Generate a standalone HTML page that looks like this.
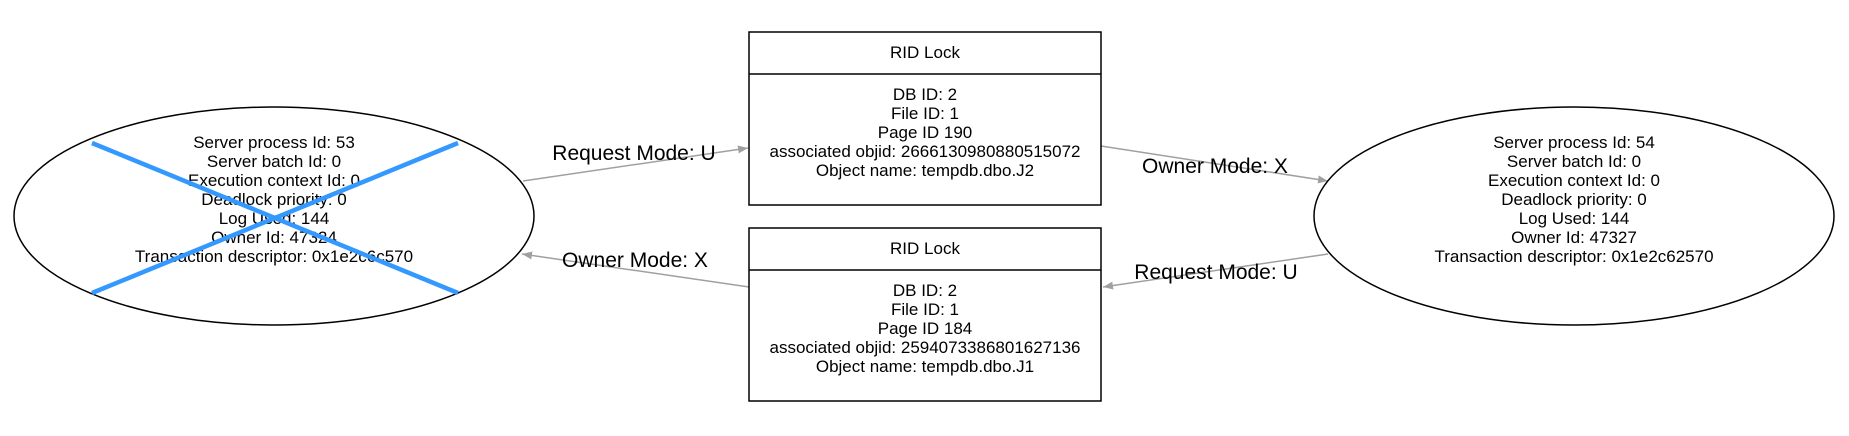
<!DOCTYPE html>
<html><head><meta charset="utf-8"><style>html,body{margin:0;padding:0;background:#fff}</style></head>
<body>
<svg width="1849" height="431" viewBox="0 0 1849 431" xmlns="http://www.w3.org/2000/svg" font-family="Liberation Sans, sans-serif">
<rect width="1849" height="431" fill="#fff"/>
<defs><marker id="a" markerWidth="10" markerHeight="8" refX="10" refY="4" orient="auto" markerUnits="userSpaceOnUse"><path d="M0,0 L10,4 L0,8 z" fill="#a0a0a0"/></marker></defs>
<g stroke="#a0a0a0" stroke-width="1.5" fill="none">
<line x1="523" y1="181" x2="748" y2="148" marker-end="url(#a)"/>
<line x1="1101" y1="146" x2="1328" y2="181" marker-end="url(#a)"/>
<line x1="1328" y1="254" x2="1103" y2="287" marker-end="url(#a)"/>
<line x1="749" y1="287" x2="522" y2="254" marker-end="url(#a)"/>
</g>
<g font-size="21" fill="#000" text-anchor="middle">
<text x="634" y="160">Request Mode: U</text>
<text x="1215" y="173">Owner Mode: X</text>
<text x="1216" y="279">Request Mode: U</text>
<text x="635" y="267">Owner Mode: X</text>
</g>
<ellipse cx="274" cy="216" rx="260" ry="109" fill="none" stroke="#000" stroke-width="1.5"/>
<ellipse cx="1574" cy="216" rx="260" ry="109" fill="none" stroke="#000" stroke-width="1.5"/>
<g fill="none" stroke="#000" stroke-width="1.5">
<rect x="749" y="32" width="352" height="173"/><line x1="749" y1="74" x2="1101" y2="74"/>
<rect x="749" y="228" width="352" height="173"/><line x1="749" y1="270" x2="1101" y2="270"/>
</g>
<g font-size="17" fill="#000" text-anchor="middle">
<text x="925" y="58">RID Lock</text>
<text x="925" y="100">DB ID: 2</text>
<text x="925" y="119">File ID: 1</text>
<text x="925" y="138">Page ID 190</text>
<text x="925" y="157">associated objid: 2666130980880515072</text>
<text x="925" y="176">Object name: tempdb.dbo.J2</text>
<text x="925" y="254">RID Lock</text>
<text x="925" y="296">DB ID: 2</text>
<text x="925" y="315">File ID: 1</text>
<text x="925" y="334">Page ID 184</text>
<text x="925" y="353">associated objid: 2594073386801627136</text>
<text x="925" y="372">Object name: tempdb.dbo.J1</text>

<text x="274" y="148">Server process Id: 53</text>
<text x="274" y="167">Server batch Id: 0</text>
<text x="274" y="186">Execution context Id: 0</text>
<text x="274" y="205">Deadlock priority: 0</text>
<text x="274" y="224">Log Used: 144</text>
<text x="274" y="243">Owner Id: 47324</text>
<text x="274" y="262">Transaction descriptor: 0x1e2c6c570</text>

<text x="1574" y="148">Server process Id: 54</text>
<text x="1574" y="167">Server batch Id: 0</text>
<text x="1574" y="186">Execution context Id: 0</text>
<text x="1574" y="205">Deadlock priority: 0</text>
<text x="1574" y="224">Log Used: 144</text>
<text x="1574" y="243">Owner Id: 47327</text>
<text x="1574" y="262">Transaction descriptor: 0x1e2c62570</text>
</g>
<g stroke="#3399ff" stroke-width="4.5">
<line x1="92" y1="143" x2="458" y2="293"/>
<line x1="92" y1="293" x2="458" y2="143"/>
</g>
</svg>
</body></html>
